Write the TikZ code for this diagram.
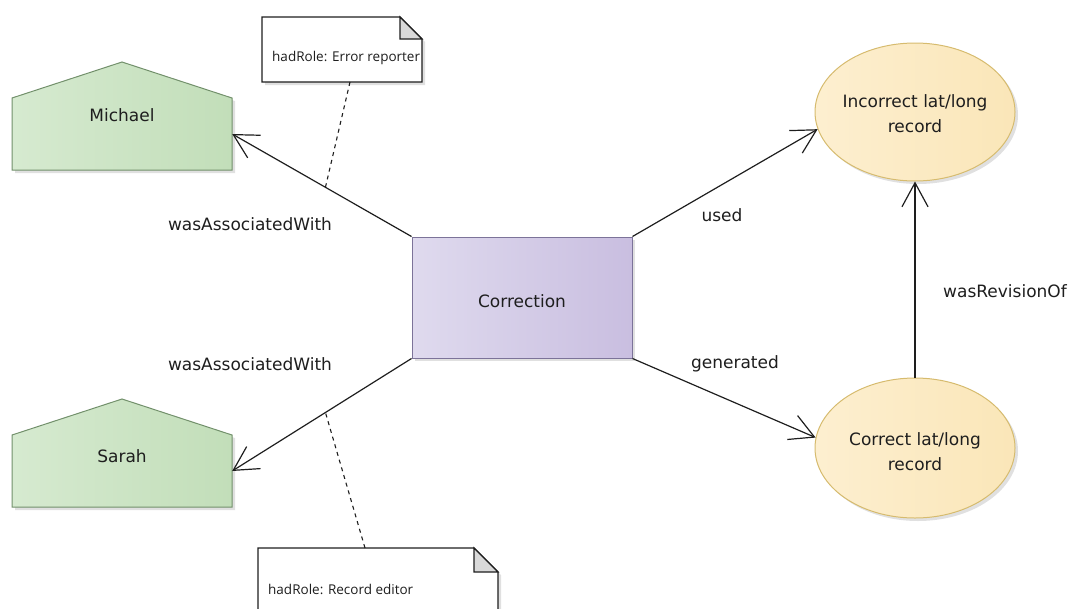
\documentclass[tikz,border=0pt]{standalone}
\usepackage{fontspec}
\setmainfont{DejaVu Sans}
\newfontfamily\notefont{Open Sans}
\usetikzlibrary{arrows.meta,shapes.geometric,shadows,calc}
\definecolor{agentL}{HTML}{D6EAD0}
\definecolor{agentR}{HTML}{C2DEB9}
\definecolor{agentB}{HTML}{72906B}
\definecolor{actL}{HTML}{DFDAEE}
\definecolor{actR}{HTML}{C9BEE0}
\definecolor{actB}{HTML}{7C7399}
\definecolor{entL}{HTML}{FDEFD0}
\definecolor{entR}{HTML}{FAE6B8}
\definecolor{entB}{HTML}{D6BB6E}
\definecolor{ink}{HTML}{1E1E1E}
\begin{document}
\begin{tikzpicture}[x=1pt,y=-1pt,
  lbl/.style={font=\fontsize{17}{20}\selectfont, text=ink, inner sep=0pt},
  nodetxt/.style={font=\fontsize{17}{25}\selectfont, text=ink, align=center},
  sh/.style={drop shadow={shadow xshift=3pt, shadow yshift=-3pt, opacity=0.2, fill=black!60}},
  agentshape/.style={left color=agentL, right color=agentR, draw=agentB, line width=1pt, sh},
  activity/.style={rectangle, left color=actL, right color=actR, draw=actB, line width=1pt, sh,
     minimum width=220pt, minimum height=121pt, inner sep=0pt},
  entity/.style={ellipse, left color=entL, right color=entR, draw=entB, line width=1pt, sh,
     minimum width=200pt, minimum height=138pt, inner sep=0pt},
  anchorbox/.style={rectangle, minimum width=220pt, minimum height=72pt, inner sep=0pt},
  conn/.style={draw=ink, line width=1.2pt, -{Straight Barb[length=24pt,width=26pt,line width=1.2pt]}},
  notebox/.style={fill=white, draw=ink, line width=1.2pt, sh},
  notefold/.style={fill=black!15, draw=ink, line width=1.2pt},
  notetxt/.style={font=\notefont\fontsize{13.5}{16}\selectfont, text=ink, inner sep=0pt, anchor=west},
  notelink/.style={draw=ink, line width=1.1pt, dash pattern=on 4pt off 4pt}
]
\useasboundingbox (0,0) rectangle (1075,608);

% agents
\path[agentshape] (12,98) -- (122,62) -- (232,98) -- (232,170) -- (12,170) -- cycle;
\node[anchorbox] (michael) at (122,134) {};
\node[nodetxt] (michaelt) at (122,115) {Michael};
\path[agentshape] (12,435) -- (122,399) -- (232,435) -- (232,507) -- (12,507) -- cycle;
\node[anchorbox] (sarah) at (122,471) {};
\node[nodetxt] (saraht) at (122,456) {Sarah};

% activity
\node[activity] (corr) at (522,297.5) {};
\node[nodetxt] (corrt) at (522,301) {Correction};

% entities
\node[entity] (inc) at (915,112) {};
\node[nodetxt] (inct) at (915,114) {Incorrect lat/long\\record};
\node[entity, minimum height=140pt] (cor) at (915,448) {};
\node[nodetxt] (cort) at (915,452) {Correct lat/long\\record};

% connectors
\draw[conn] (corr.north west) -- coordinate[pos=0.48] (m1) (michael.east);
\draw[conn] (corr.south west) -- coordinate[pos=0.48] (m2) (sarah.east);
\draw[conn] (corr.north east) -- (inc.190);
\draw[conn] (corr.south east) -- (cor.174);
\draw[conn] (cor.north) -- (inc.south);

% labels
\node[lbl] (l1) at (250,224) {wasAssociatedWith};
\node[lbl] (l2) at (250,364) {wasAssociatedWith};
\node[lbl] (l3) at (722,215) {used};
\node[lbl] (l4) at (735,364) {generated};
\node[lbl] (l5) at (1005,291) {wasRevisionOf};

% notes
\path[notebox] (262,17) -- (400,17) -- (422,39) -- (422,82) -- (262,82) -- cycle;
\path[notefold] (400,17) -- (400,39) -- (422,39) -- cycle;
\node[notetxt] (n1) at (272,58) {hadRole: Error reporter};
\coordinate (n1b) at (350,82);
\draw[notelink] (n1b) -- (m1);

\path[notebox] (258,548) -- (474,548) -- (498,572) -- (498,625) -- (258,625) -- cycle;
\path[notefold] (474,548) -- (474,572) -- (498,572) -- cycle;
\node[notetxt] (n2) at (268,589) {hadRole: Record editor};
\coordinate (n2t) at (365,548);
\draw[notelink] (n2t) -- (m2);
\end{tikzpicture}
\end{document}
